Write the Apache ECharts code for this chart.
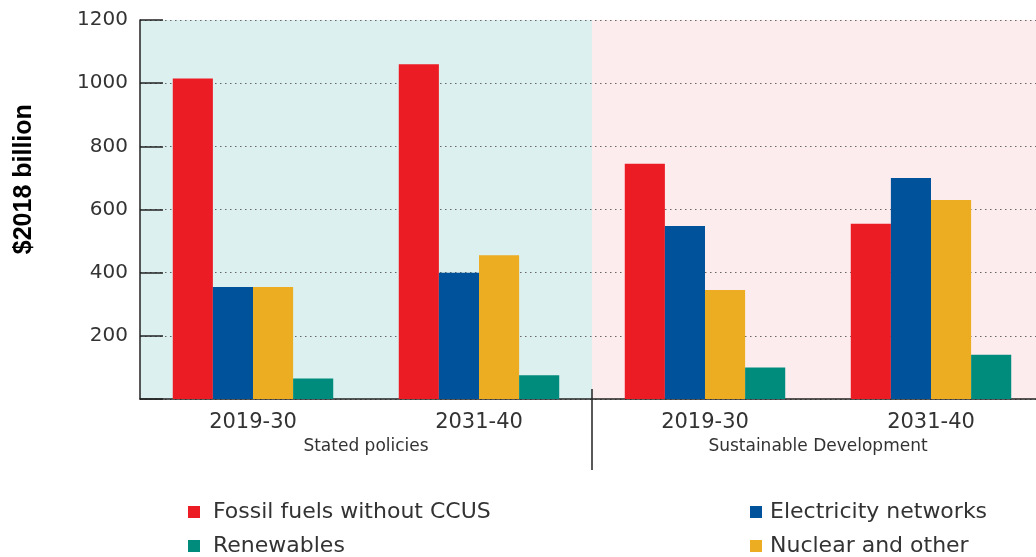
<!DOCTYPE html>
<html>
<head>
<meta charset="utf-8">
<script src="https://cdn.jsdelivr.net/npm/echarts@6/dist/echarts.min.js"></script>
<style>
  html, body { margin: 0; padding: 0; background: #fff; }
  #chart { width: 1036px; height: 557px; }
</style>
</head>
<body>
<div id="chart"></div>
<script>
// periods and scenarios
const periods = ['2019-30', '2031-40', '2019-30', '2031-40']
const scenarios = ['Stated policies', 'Sustainable Development']

// investment, $2018 billion
const fossil = [1015, 1060, 745, 555]
const networks = [355, 400, 548, 700]
const nuclear = [355, 455, 345, 630]
const renewables = [65, 75, 100, 140]

const yTicks = { min: 0, max: 1200, interval: 200 }

const FONT = '"DejaVu Sans", sans-serif'
const AXIS = '#222'

const chart = echarts.init(document.getElementById('chart'))

function bar(name, data, color) {
    return {
        name,
        type: 'bar',
        data,
        barGap: 0,
        barCategoryGap: '29%',
        itemStyle: { color },
        emphasis: { disabled: true }
    }
}

// one legend per item so the 2x2 layout stays put
function legendItem(name, left, top, gap) {
    return {
        left,
        top,
        itemWidth: 12,
        itemHeight: 12,
        icon: 'rect',
        selectedMode: false,
        data: [name],
        textStyle: { color: '#333', fontFamily: FONT, fontSize: 22, padding: [0, 0, 0, gap] }
    }
}

chart.setOption({
    animation: false,
    grid: { left: 140, right: -8, top: 20, bottom: 158, outerBoundsMode: 'none' },
    xAxis: [
        {
            type: 'category',
            data: periods,
            z: 2,
            axisLine: { lineStyle: { color: AXIS, width: 1.5 } },
            axisTick: { inside: true, length: 10, lineStyle: { color: AXIS, width: 1.5 } },
            axisLabel: { color: '#333', fontFamily: FONT, fontSize: 21, margin: 13 }
        },
        {
            type: 'category',
            data: scenarios,
            position: 'bottom',
            z: 0,
            axisLine: { show: false },
            axisTick: { show: false },
            axisLabel: { color: '#333', fontFamily: FONT, fontSize: 17, margin: 39 },
            splitArea: { show: true, areaStyle: { color: ['#ddf0f0', '#fdecee'] } }
        }
    ],
    yAxis: {
        type: 'value',
        min: yTicks.min,
        max: yTicks.max,
        interval: yTicks.interval,
        z: 1,
        axisLine: { show: true, lineStyle: { color: AXIS, width: 1.5 } },
        axisTick: { show: true, inside: true, length: 23, lineStyle: { color: AXIS, width: 1.5 } },
        axisLabel: {
            color: '#333', fontFamily: FONT, fontSize: 20, margin: 12,
            formatter: v => (v === 0 ? '' : String(v))
        },
        splitLine: { show: true, lineStyle: { color: '#666', type: [1.5, 3.5], width: 1.2 } }
    },
    legend: [
        legendItem('Fossil fuels without CCUS', 183, 496, 8),
        legendItem('Renewables', 183, 530, 8),
        legendItem('Electricity networks', 745, 496, 3),
        legendItem('Nuclear and other', 745, 530, 3)
    ],
    series: [
        bar('Fossil fuels without CCUS', fossil, '#ec1c24'),
        bar('Electricity networks', networks, '#00529a'),
        bar('Nuclear and other', nuclear, '#ecad22'),
        bar('Renewables', renewables, '#008c7d')
    ]
})

// scenario separator and axis title
const xa = chart.convertToPixel({ xAxisIndex: 0 }, 1)
const xb = chart.convertToPixel({ xAxisIndex: 0 }, 2)
const sepX = Math.round((xa + xb) / 2)
const y0 = chart.convertToPixel({ yAxisIndex: 0 }, 0)
const yTop = chart.convertToPixel({ yAxisIndex: 0 }, yTicks.max)

chart.setOption({
    graphic: [
        {
            type: 'line',
            silent: true,
            shape: { x1: sepX, y1: y0 - 10, x2: sepX, y2: y0 + 71 },
            style: { stroke: AXIS, lineWidth: 1.5 }
        },
        {
            type: 'text',
            silent: true,
            x: 24,
            y: yTop + (y0 - yTop) * 0.42,
            rotation: Math.PI / 2,
            style: {
                text: '$2018 billion',
                font: 'bold 25px "Liberation Sans", Arial, sans-serif',
                fill: '#000',
                align: 'center',
                verticalAlign: 'middle'
            }
        }
    ]
})

window.addEventListener('resize', () => chart.resize())
</script>
</body>
</html>
